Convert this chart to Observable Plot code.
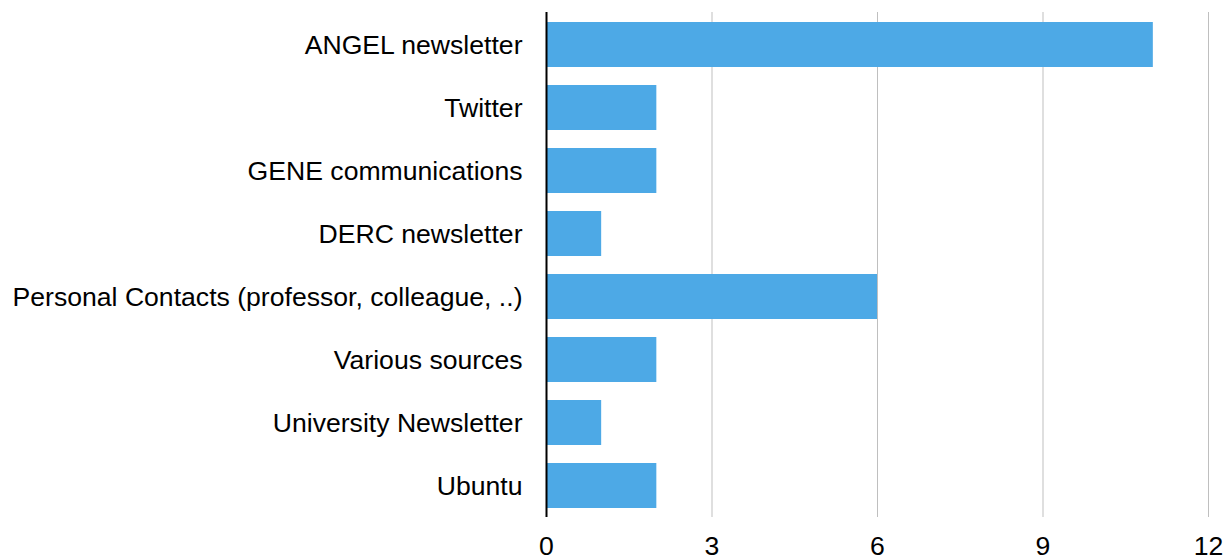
<!DOCTYPE html>
<html>
<head>
<meta charset="utf-8">
<script src="https://cdn.jsdelivr.net/npm/d3@7"></script>
<script src="https://cdn.jsdelivr.net/npm/@observablehq/plot@0.6"></script>
<style>
  html, body { margin: 0; padding: 0; background: #fff; }
  #chart svg { display: block; overflow: visible; }
</style>
</head>
<body>
<div id="chart"></div>
<script>
const categories = [
  "ANGEL newsletter",
  "Twitter",
  "GENE communications",
  "DERC newsletter",
  "Personal Contacts (professor, colleague, ..)",
  "Various sources",
  "University Newsletter",
  "Ubuntu"
];
const counts = [11, 2, 2, 1, 6, 2, 1, 2];
const xTicks = [0, 3, 6, 9, 12];

const data = categories.map((c, i) => ({source: c, count: counts[i]}));

const chart = Plot.plot({
  width: 1226,
  height: 560,
  marginLeft: 546,
  marginRight: 18,
  marginTop: 12,
  marginBottom: 43,
  style: {fontFamily: "Liberation Sans, Arial, sans-serif", fontSize: "26.6px", color: "#000", background: "#fff", overflow: "visible"},
  x: {domain: [0, 12], ticks: xTicks, label: null},
  y: {domain: categories, paddingInner: 0.287, paddingOuter: 0.143, label: null},
  marks: [
    Plot.gridX(xTicks.filter(d => d > 0), {stroke: "#bfbfbf", strokeOpacity: 1, strokeWidth: 1}),
    Plot.barX(data, {x: "count", y: "source", fill: "#4DA9E6"}),
    Plot.ruleX([0], {stroke: "#000", strokeWidth: 2}),
    Plot.axisX({ticks: xTicks, tickSize: 0, tickPadding: 19, fontSize: 26.6, label: null}),
    Plot.axisY({tickSize: 0, tickPadding: 24, fontSize: 26.6, label: null})
  ]
});
document.getElementById("chart").appendChild(chart);
</script>
</body>
</html>
